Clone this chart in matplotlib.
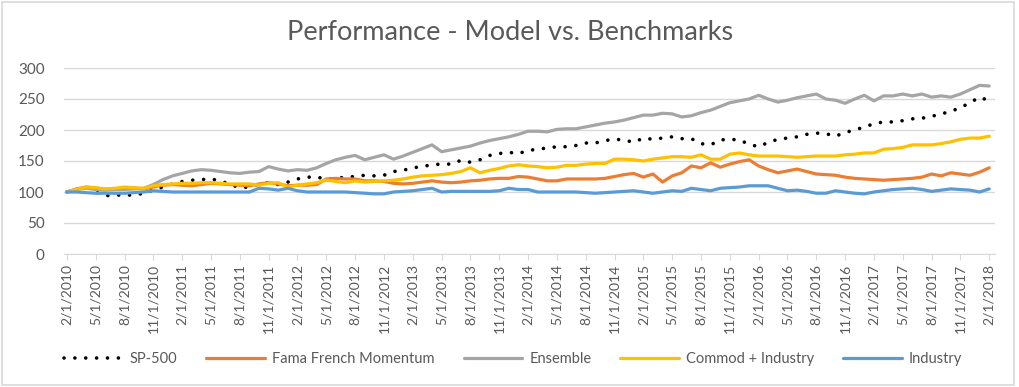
import matplotlib
matplotlib.use("Agg")
import matplotlib.pyplot as plt
from matplotlib.patches import Rectangle

plt.rcParams['font.family'] = ['Lato', 'DejaVu Sans']

# ---- data (monthly, 2/1/2010 .. 2/1/2018) ----
months = []
for y in range(2010, 2019):
    for m in range(1, 13):
        if (y == 2010 and m < 2) or (y == 2018 and m > 2):
            continue
        months.append(f"{m}/1/{y}")

sp500 = [100, 104, 108, 100, 94, 95, 95, 95, 98, 103, 108, 113, 117, 119, 120, 121, 118, 112, 107, 108,
         113, 115, 112, 116, 121, 124, 124, 121, 122, 124, 125, 127, 126, 127, 133, 135, 139, 141, 144, 145,
         145, 151, 148, 152, 159, 162, 164, 162, 167, 169, 171, 173, 173, 175, 179, 179, 183, 185, 184, 180,
         187, 185, 187, 189, 186, 186, 178, 176, 184, 185, 184, 177, 173, 180, 185, 187, 189, 193, 195, 194,
         190, 196, 200, 205, 210, 213, 213, 215, 218, 219, 222, 226, 230, 236, 244, 253, 247]

fama_french = [100, 105, 108, 106, 104, 105, 107, 106, 105, 108, 111, 112, 111, 110, 112, 114, 113, 112, 111, 110,
               113, 115, 113, 110, 111, 111, 112, 121, 122, 121, 121, 118, 118, 117, 114, 113, 114, 116, 118, 116,
               115, 116, 118, 119, 121, 122, 122, 125, 124, 121, 118, 118, 121, 121, 121, 121, 122, 125, 128, 130,
               124, 129, 116, 126, 131, 142, 139, 147, 140, 145, 149, 152, 142, 136, 131, 134, 137, 133, 129, 128,
               127, 124, 122, 121, 120, 119, 120, 121, 122, 124, 129, 126, 131, 129, 127, 132, 139]

ensemble = [100, 104, 106, 104, 103, 104, 104, 105, 106, 112, 120, 126, 130, 134, 136, 135, 133, 131, 130, 132,
            133, 141, 137, 134, 136, 135, 139, 146, 152, 156, 159, 152, 156, 160, 153, 158, 164, 170, 176, 165,
            168, 171, 174, 179, 183, 186, 189, 193, 198, 198, 197, 201, 202, 202, 205, 208, 211, 213, 216, 220,
            224, 224, 227, 226, 221, 223, 228, 232, 238, 244, 247, 250, 256, 250, 245, 248, 252, 255, 258, 250,
            248, 243, 250, 256, 247, 255, 255, 258, 255, 258, 253, 255, 253, 258, 265, 272, 271]

commod_industry = [100, 104, 108, 107, 105, 106, 108, 107, 106, 110, 112, 113, 114, 114, 115, 115, 114, 113, 113, 113,
                   111, 114, 115, 108, 111, 113, 115, 119, 117, 115, 118, 116, 117, 118, 119, 121, 124, 126, 127, 128,
                   130, 133, 139, 131, 135, 138, 142, 144, 142, 141, 139, 140, 143, 143, 145, 146, 146, 153, 153, 152,
                   150, 153, 155, 157, 157, 156, 160, 153, 153, 161, 163, 160, 158, 158, 158, 157, 156, 157, 158, 158,
                   158, 160, 161, 163, 163, 169, 170, 172, 176, 176, 176, 178, 181, 185, 187, 187, 190]

industry = [100, 100, 99, 98, 98, 98, 98, 99, 100, 102, 101, 100, 100, 100, 100, 100, 100, 100, 100, 100,
            106, 105, 103, 106, 102, 100, 100, 100, 100, 100, 99, 98, 97, 97, 100, 101, 102, 104, 106, 100,
            101, 101, 101, 101, 101, 102, 106, 104, 104, 100, 100, 100, 100, 100, 99, 98, 99, 100, 101, 102,
            100, 98, 100, 102, 101, 106, 104, 102, 106, 107, 108, 110, 110, 110, 106, 102, 103, 101, 98, 98,
            102, 100, 98, 97, 100, 102, 104, 105, 106, 104, 101, 103, 105, 104, 103, 100, 105]

series_names = ["SP-500", "Fama French Momentum", "Ensemble", "Commod + Industry", "Industry"]
series_colors = ["black", "#ED7D31", "#A5A5A5", "#FFC000", "#5B9BD5"]
title = "Performance - Model vs. Benchmarks"
yticks = [0, 50, 100, 150, 200, 250, 300]

# ---- figure ----
fig = plt.figure(figsize=(10.2, 3.87), dpi=100)
ax = fig.add_axes([64/1020, 1 - 254/387, (995 - 64)/1020, (254 - 68)/387])

x = list(range(len(months)))
text_col = "#595959"

ax.plot(x, sp500, color=series_colors[0], lw=2.6, linestyle=(0, (0.01, 3.0)),
        dash_capstyle='round', label=series_names[0], zorder=3)
ax.plot(x, fama_french, color=series_colors[1], lw=2.3, label=series_names[1], solid_capstyle='round', zorder=3)
ax.plot(x, ensemble, color=series_colors[2], lw=2.3, label=series_names[2], solid_capstyle='round', zorder=3)
ax.plot(x, commod_industry, color=series_colors[3], lw=2.3, label=series_names[3], solid_capstyle='round', zorder=3)
ax.plot(x, industry, color=series_colors[4], lw=2.3, label=series_names[4], solid_capstyle='round', zorder=3)

ax.set_ylim(0, 300)
ax.set_yticks(yticks)
ax.set_xlim(-0.3, len(months) - 1 + 0.6)
tick_pos = list(range(0, len(months), 3))
ax.set_xticks(tick_pos)
ax.set_xticklabels([months[i] for i in tick_pos], rotation=90, fontsize=10, color=text_col)
ax.tick_params(axis='y', length=0, labelsize=11, labelcolor=text_col, pad=14)
ax.tick_params(axis='x', length=4, color="#d9d9d9", pad=3)
ax.grid(axis='y', color="#d9d9d9", lw=1)
ax.set_axisbelow(True)
for s in ['top', 'right', 'left']:
    ax.spines[s].set_visible(False)
ax.spines['bottom'].set_color("#d9d9d9")

fig.text(0.5, 1 - 33/387, title, ha='center', va='center', fontsize=19.5, color=text_col)

handles, labels = ax.get_legend_handles_labels()
fig.legend(handles, labels, loc='center', bbox_to_anchor=(0.503, 1 - 359/387), ncol=5,
           frameon=False, handlelength=4.0, columnspacing=2.0, handletextpad=0.5,
           fontsize=10.5, labelcolor=text_col)

fig.add_artist(Rectangle((0.002, 0.004), 0.992, 0.99, transform=fig.transFigure,
                         fill=False, edgecolor="#d9d9d9", lw=1.2))

fig.savefig("out.png", dpi=100)
